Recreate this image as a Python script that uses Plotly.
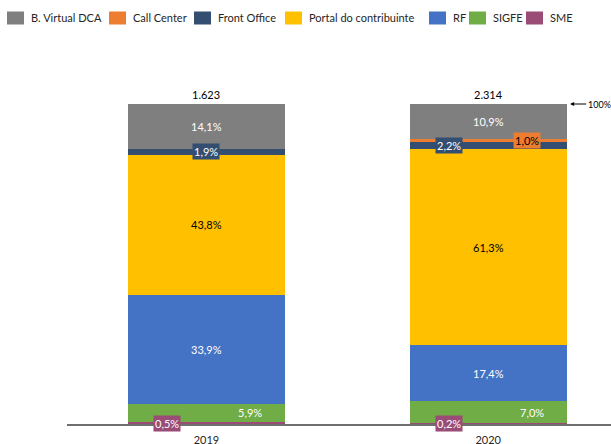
import plotly.graph_objects as go

years = ["2019", "2020"]
totals = [1623, 2314]
series = ["SME", "SIGFE", "RF", "Portal do contribuinte", "Front Office", "Call Center", "B. Virtual DCA"]
shares = {
    "SME": [0.5, 0.2],
    "SIGFE": [5.9, 7.0],
    "RF": [33.9, 17.4],
    "Portal do contribuinte": [43.8, 61.3],
    "Front Office": [1.9, 2.2],
    "Call Center": [0.0, 1.0],
    "B. Virtual DCA": [14.1, 10.9],
}
legend_order = ["B. Virtual DCA", "Call Center", "Front Office", "Portal do contribuinte", "RF", "SIGFE", "SME"]

colors = {
    "B. Virtual DCA": "#7f7f7f",
    "Call Center": "#ed7d31",
    "Front Office": "#334e70",
    "Portal do contribuinte": "#ffc000",
    "RF": "#4472c4",
    "SIGFE": "#70ad47",
    "SME": "#9a4b76",
}
text_color = {"Portal do contribuinte": "black", "Call Center": "black"}
# (horizontal shift in px, boxed label) for thin segments
label_style = {
    (0, "SME"): (-39, True), (1, "SME"): (-39, True),
    (0, "SIGFE"): (44, False), (1, "SIGFE"): (44, False),
    (0, "Front Office"): (0, True), (1, "Front Office"): (-39, True),
    (1, "Call Center"): (39, True),
}
# legend text start positions (px from left)
legend_x = [29, 131, 216, 307, 451, 491, 548]

FONT = "Lato, Carlito, sans-serif"
W, H = 611, 444
L, T, PH = 67, 104, 320
xs = [0, 1]
fig = go.Figure()
for name in series:
    fig.add_trace(go.Bar(
        x=xs, y=[v / 100 for v in shares[name]], name=name,
        marker=dict(color=colors[name], line=dict(width=0)),
        width=0.558, showlegend=False,
    ))

anns = []
shapes = []
for i in range(2):
    base = 0
    for name in series:
        v = shares[name][i]
        if v > 0:
            shift, boxed = label_style.get((i, name), (0, False))
            anns.append(dict(
                x=xs[i], y=(base + v / 2) / 100, text=f"{v:.1f}".replace(".", ",") + "%",
                showarrow=False, xshift=shift,
                font=dict(family=FONT, size=11, color=text_color.get(name, "white")),
                bgcolor=colors[name] if boxed else None, borderpad=1,
            ))
        base += v
    anns.append(dict(
        x=xs[i], y=1, yanchor="bottom", yshift=1, showarrow=False,
        text=f"{totals[i]:,}".replace(",", "."),
        font=dict(family=FONT, size=11, color="black"),
    ))

anns.append(dict(
    x=1.291, y=1, text="100%", showarrow=True, ax=29, ay=0,
    arrowhead=2, arrowsize=0.8, arrowwidth=1, arrowcolor="black",
    font=dict(family=FONT, size=9, color="black"),
))

# manual legend row
for name, tx in zip(legend_order, legend_x):
    shapes.append(dict(type="rect", xref="paper", yref="paper",
                       x0=(tx - 22 - L) / (W - L), x1=(tx - 5 - L) / (W - L),
                       y0=1 + (T - 24.5) / PH, y1=1 + (T - 11.5) / PH,
                       fillcolor=colors[name], line=dict(width=0)))
    anns.append(dict(xref="paper", yref="paper", x=(tx - L) / (W - L), y=1 + (T - 17.5) / PH,
                     xanchor="left", yanchor="middle", showarrow=False, text=name,
                     font=dict(family=FONT, size=11, color="#262626")))

fig.update_layout(
    barmode="stack",
    width=W, height=H,
    margin=dict(l=L, r=0, t=T, b=H - T - PH),
    plot_bgcolor="white", paper_bgcolor="white",
    font=dict(family=FONT, size=11, color="#262626"),
    annotations=anns, shapes=shapes,
    showlegend=False,
    bargap=0,
)
fig.update_xaxes(
    range=[-0.495, 1.436], tickvals=xs, ticktext=years,
    showline=True, linecolor="#6f6f6f", linewidth=1.5, showgrid=False,
    ticks="", zeroline=False, ticklabelstandoff=5, automargin=False,
    tickfont=dict(family=FONT, size=11, color="#262626"),
)
fig.update_yaxes(range=[0, 1], visible=False, showgrid=False, automargin=False)

fig.write_html("out.html", config={"displayModeBar": False},
               post_script="document.body.style.margin='0';")
